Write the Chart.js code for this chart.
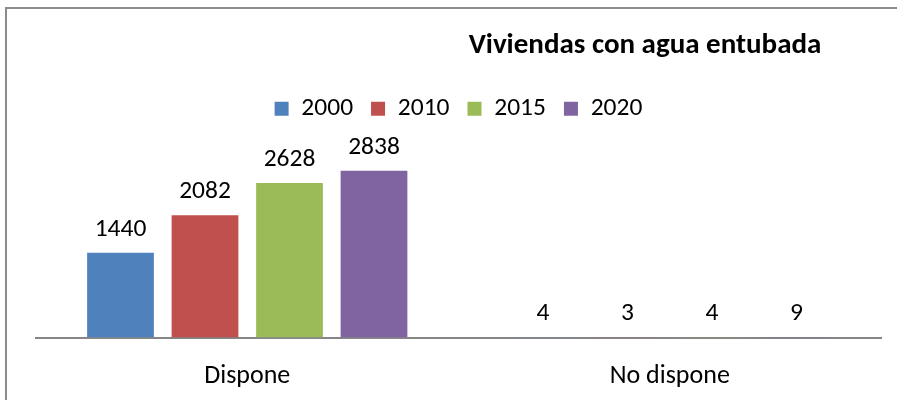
<!DOCTYPE html>
<html>
<head>
<meta charset="utf-8">
<script src="https://cdn.jsdelivr.net/npm/chart.js@4"></script>
<style>
    body { margin: 0; background: #fff; }
    #wrap { position: relative; width: 897px; height: 400px; }
    #frame {
        position: absolute; left: 5px; top: 7px; right: 0; bottom: 0;
        border-left: 2px solid #8c8c8c; border-top: 2px solid #8c8c8c;
    }
    #myGraph { position: absolute; left: 0; top: 0; }
</style>
</head>
<body>
<div id="wrap">
    <div id="frame"></div>
    <canvas id="myGraph" width="897" height="400"></canvas>
</div>
<script>
const categories = ['Dispone', 'No dispone'];
const years = ['2000', '2010', '2015', '2020'];
const values2000 = [1440, 4];
const values2010 = [2082, 3];
const values2015 = [2628, 4];
const values2020 = [2838, 9];
const colors = ['#4F81BD', '#C0504D', '#9BBB59', '#8064A2'];
const chartTitle = 'Viviendas con agua entubada';

const fontFamily = 'Carlito, Calibri, Lato, sans-serif';

// title sits off-centre, to the right, like the original
const titlePlugin = {
    id: 'sideTitle',
    afterDraw(chart) {
        const ctx = chart.ctx;
        ctx.save();
        ctx.font = 'bold 29px ' + fontFamily;
        ctx.fillStyle = '#000';
        ctx.textAlign = 'center';
        ctx.textBaseline = 'alphabetic';
        ctx.fillText(chartTitle, 645, 53);
        ctx.restore();
    }
};

// value labels above each bar
const valueLabels = {
    id: 'valueLabels',
    afterDatasetsDraw(chart) {
        const ctx = chart.ctx;
        ctx.save();
        ctx.font = '25.5px ' + fontFamily;
        ctx.fillStyle = '#000';
        ctx.textAlign = 'center';
        ctx.textBaseline = 'alphabetic';
        chart.data.datasets.forEach((ds, i) => {
            chart.getDatasetMeta(i).data.forEach((bar, j) => {
                ctx.fillText(ds.data[j], bar.x, bar.y - 17);
            });
        });
        ctx.restore();
    }
};

const allValues = [values2000, values2010, values2015, values2020];
const data = {
    labels: categories,
    datasets: years.map((y, i) => ({
        label: y,
        data: allValues[i],
        backgroundColor: colors[i],
        categoryPercentage: 0.8,
        barPercentage: 0.79,
    }))
};

const ctx = document.getElementById('myGraph').getContext('2d');
let myBarChart = new Chart(ctx, {
    type: 'bar',
    data: data,
    plugins: [titlePlugin, valueLabels],
    options: {
        responsive: false,
        animation: false,
        layout: { padding: { left: 36, right: 16, top: 78, bottom: 0 } },
        plugins: {
            legend: {
                position: 'top',
                labels: {
                    boxWidth: 14,
                    boxHeight: 14,
                    padding: 18,
                    color: '#000',
                    font: { family: fontFamily, size: 25.5 }
                }
            },
            tooltip: { enabled: false },
            title: { display: false }
        },
        scales: {
            x: {
                grid: { display: false, drawTicks: false },
                border: { display: true, color: '#868686', width: 2 },
                ticks: {
                    padding: 23,
                    color: '#000',
                    font: { family: fontFamily, size: 26 }
                },
                afterFit(scale) {
                    scale.height = 62.5;
                }
            },
            y: {
                display: false,
                min: 0,
                max: 3505
            }
        }
    }
});
</script>
</body>
</html>
